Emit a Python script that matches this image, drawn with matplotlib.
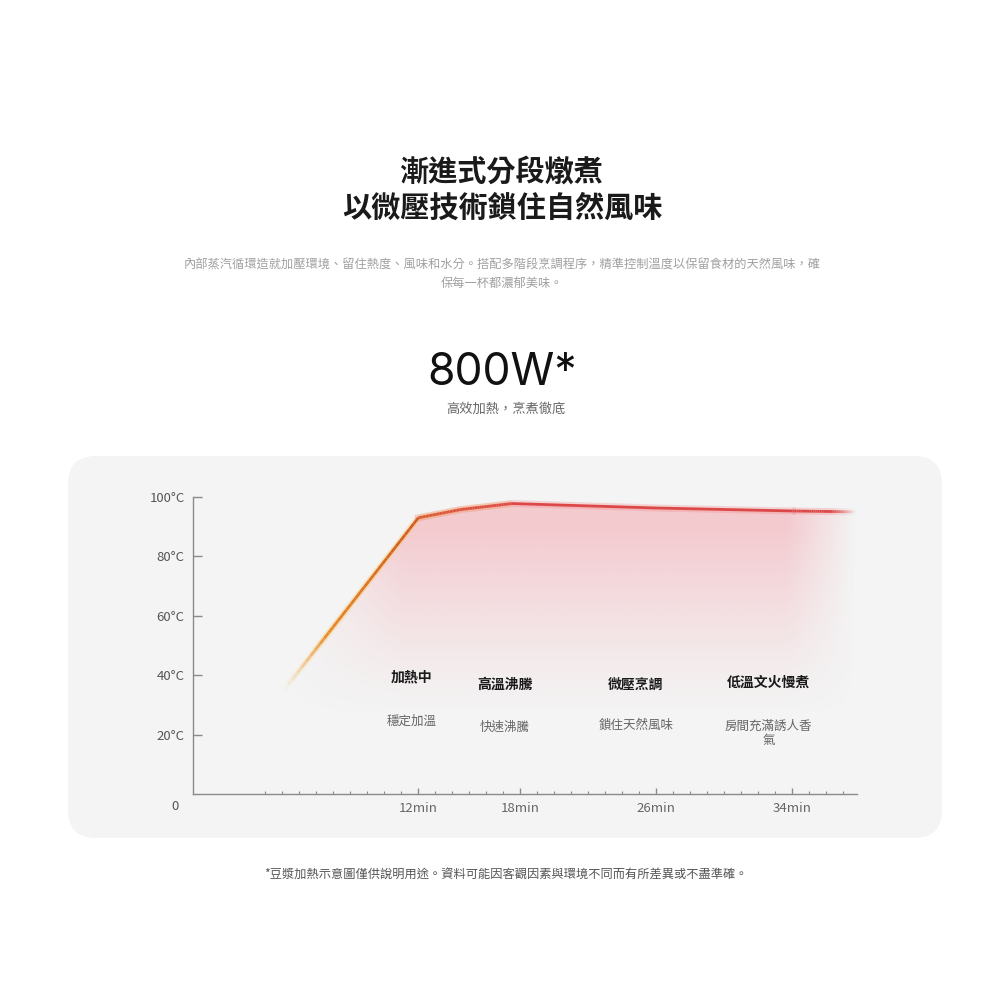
import numpy as np
import matplotlib
matplotlib.use("Agg")
from matplotlib import pyplot as plt
from matplotlib.patches import FancyBboxPatch, Polygon
from matplotlib.collections import LineCollection
from matplotlib.colors import LinearSegmentedColormap

plt.rcParams['font.family'] = ['Noto Sans CJK TC', 'DejaVu Sans']

# data
time_min = [4.1, 12.0, 14.5, 17.5, 22.0, 26.0, 30.0, 34.0, 37.7]
temp_c = [35.0, 93.0, 95.8, 97.8, 97.0, 96.3, 95.8, 95.3, 95.0]

y_ticks = [20, 40, 60, 80, 100]
y_labels = ["20°C", "40°C", "60°C", "80°C", "100°C"]
x_ticks = [12, 18, 26, 34]
x_labels = ["12min", "18min", "26min", "34min"]

stage_x = [11.6, 17.1, 24.8, 32.6]
stage_y = [39.4, 36.7, 36.7, 37.4]
stage_titles = ["加熱中", "高溫沸騰", "微壓烹調", "低溫文火慢煮"]
sub_y = [24.6, 22.6, 23.2, 20.4]
stage_subs = ["穩定加溫", "快速沸騰", "鎖住天然風味", "房間充滿誘人香\n氣"]

title_lines = ["漸進式分段燉煮", "以微壓技術鎖住自然風味"]
desc = ("內部蒸汽循環造就加壓環境、留住熱度、風味和水分。搭配多階段烹調程序，精準控制溫度以保留食材的天然風味，確\n"
        "保每一杯都濃郁美味。")
power = "800W*"
power_sub = "高效加熱，烹煮徹底"
note = "*豆漿加熱示意圖僅供說明用途。資料可能因客觀因素與環境不同而有所差異或不盡準確。"

fig = plt.figure(figsize=(10, 10), dpi=100)
fig.patch.set_facecolor("white")

# header text
fig.text(0.502, 0.828, title_lines[0], ha="center", va="center", fontsize=21, fontweight="bold", color="#1a1a1a")
fig.text(0.502, 0.792, title_lines[1], ha="center", va="center", fontsize=21, fontweight="bold", color="#1a1a1a")
fig.text(0.502, 0.726, desc, ha="center", va="center", fontsize=8.8, color="#a0a0a0", linespacing=1.55)
fig.text(0.502, 0.627, power, ha="center", va="center", fontsize=32, color="#111111",
         family=["Inter", "DejaVu Sans"])
fig.text(0.506, 0.591, power_sub, ha="center", va="center", fontsize=9.5, color="#666666")
fig.text(0.506, 0.125, note, ha="center", va="center", fontsize=8.8, color="#555555")

# grey panel
panel = FancyBboxPatch((0.068, 0.162), 0.874, 0.382, boxstyle="round,pad=0,rounding_size=0.028",
                       transform=fig.transFigure, facecolor="#f4f4f4", edgecolor="none", zorder=-1)
fig.patches.append(panel)

ax = fig.add_axes([0.193, 0.206, 0.664, 0.297])
ax.set_zorder(2)
ax.set_facecolor("none")
ax.set_xlim(-1.25, 37.8)
ax.set_ylim(0, 100)

# pink fill under the curve
t = np.array(time_min)
v = np.array(temp_c)
gx = np.linspace(t[0], t[-1], 400)
gy = np.linspace(0, 100, 300)
X, Y = np.meshgrid(gx, gy)
a = np.clip((Y - 26) / 64, 0, 1) ** 1.2
a = a * np.clip((X - t[0]) / 7, 0, 1) * np.clip((t[-1] - X) / 4, 0, 1)
img = np.zeros((300, 400, 4))
img[..., 0] = 0.95
img[..., 1] = 0.60
img[..., 2] = 0.64
img[..., 3] = a * 0.46
im = ax.imshow(img, extent=[t[0], t[-1], 0, 100], origin="lower", aspect="auto", zorder=1)
poly = Polygon(np.column_stack([np.r_[t, t[-1], t[0]], np.r_[v, 0, 0]]), closed=True,
               transform=ax.transData, facecolor="none", edgecolor="none")
ax.add_patch(poly)
im.set_clip_path(poly)

# gradient stroke on the rise and on the last segment (split into short pieces for colouring)
def pieces(i0, i1, n=30):
    segs, mids = [], []
    for i in range(i0, i1):
        xs = np.linspace(t[i], t[i + 1], n + 1)
        ys = np.linspace(v[i], v[i + 1], n + 1)
        for j in range(n):
            segs.append([(xs[j], ys[j]), (xs[j + 1], ys[j + 1])])
            mids.append((xs[j] + xs[j + 1]) / 2)
    return segs, np.array(mids)

cmap = LinearSegmentedColormap.from_list("heat", [
    (0.0, "#f4c27a"), (0.08, "#e88a2a"), (0.2, "#d2661e"), (0.24, "#d85a2a"),
    (0.32, "#de4c3c"), (0.40, "#dc4848"), (1.0, "#dc4848")])
red = "#dc4848"

def fade_of(m):
    return np.clip((m - t[0]) / 2.5, 0, 1) * np.clip((t[-1] - m) / 1.4, 0, 1)

# rise + bend
segs, mids = pieces(0, 3)
cols = cmap((mids - t[0]) / (t[-1] - t[0]))
cols[:, 3] = fade_of(mids)
glow = np.tile(np.array([[0.97, 0.78, 0.40, 0.0]]), (len(segs), 1))
glow[:, 3] = fade_of(mids) * 0.35
ax.add_collection(LineCollection(segs, colors=glow, linewidths=4.5, capstyle="butt", zorder=2))
ax.add_collection(LineCollection(segs, colors=cols, linewidths=2.0, capstyle="butt", zorder=4))

# plateau as one path
ax.plot(t[1:-1], v[1:-1], color="#f08080", alpha=0.28, lw=5, solid_joinstyle="round", zorder=2)
ax.plot(t[3:-1], v[3:-1], color=red, lw=2.0, solid_joinstyle="round", solid_capstyle="butt", zorder=4)

# fading tail
segs, mids = pieces(len(t) - 2, len(t) - 1)
cols = np.tile(np.array(matplotlib.colors.to_rgba(red)), (len(segs), 1))
cols[:, 3] = fade_of(mids)
gcol = np.tile(np.array(matplotlib.colors.to_rgba("#f08080")), (len(segs), 1))
gcol[:, 3] = fade_of(mids) * 0.28
ax.add_collection(LineCollection(segs, colors=gcol, linewidths=5, capstyle="butt", zorder=2))
ax.add_collection(LineCollection(segs, colors=cols, linewidths=2.0, capstyle="butt", zorder=4))

# stage labels
for x, y, s in zip(stage_x, stage_y, stage_titles):
    ax.text(x, y, s, ha="center", va="center", fontsize=10, fontweight="bold", color="#1a1a1a", zorder=5)
for x, y, s in zip(stage_x, sub_y, stage_subs):
    ax.text(x, y, s, ha="center", va="center", fontsize=9, color="#666666", linespacing=1.1, zorder=5)

# axes styling
for s in ["top", "right"]:
    ax.spines[s].set_visible(False)
ax.spines["left"].set_color("#8a8a8a")
ax.spines["bottom"].set_color("#8a8a8a")
ax.spines["left"].set_linewidth(1.0)
ax.spines["bottom"].set_linewidth(1.0)
ax.set_yticks(y_ticks)
ax.set_yticklabels(y_labels)
ax.set_xticks(x_ticks)
ax.set_xticklabels(x_labels)
ax.set_xticks(range(3, 38), minor=True)
ax.tick_params(axis="y", direction="in", length=6.5, width=1.0, color="#8a8a8a",
               labelsize=9.5, labelcolor="#555555", pad=6)
ax.tick_params(axis="x", which="major", direction="in", length=4.5, width=1.0, color="#8a8a8a",
               labelsize=9.5, labelcolor="#666666", pad=6)
ax.tick_params(axis="x", which="minor", direction="in", length=2.2, width=0.8, color="#8a8a8a")
fig.text(0.175, 0.194, "0", ha="center", va="center", fontsize=9.5, color="#555555")

fig.savefig("out.png", dpi=100)
